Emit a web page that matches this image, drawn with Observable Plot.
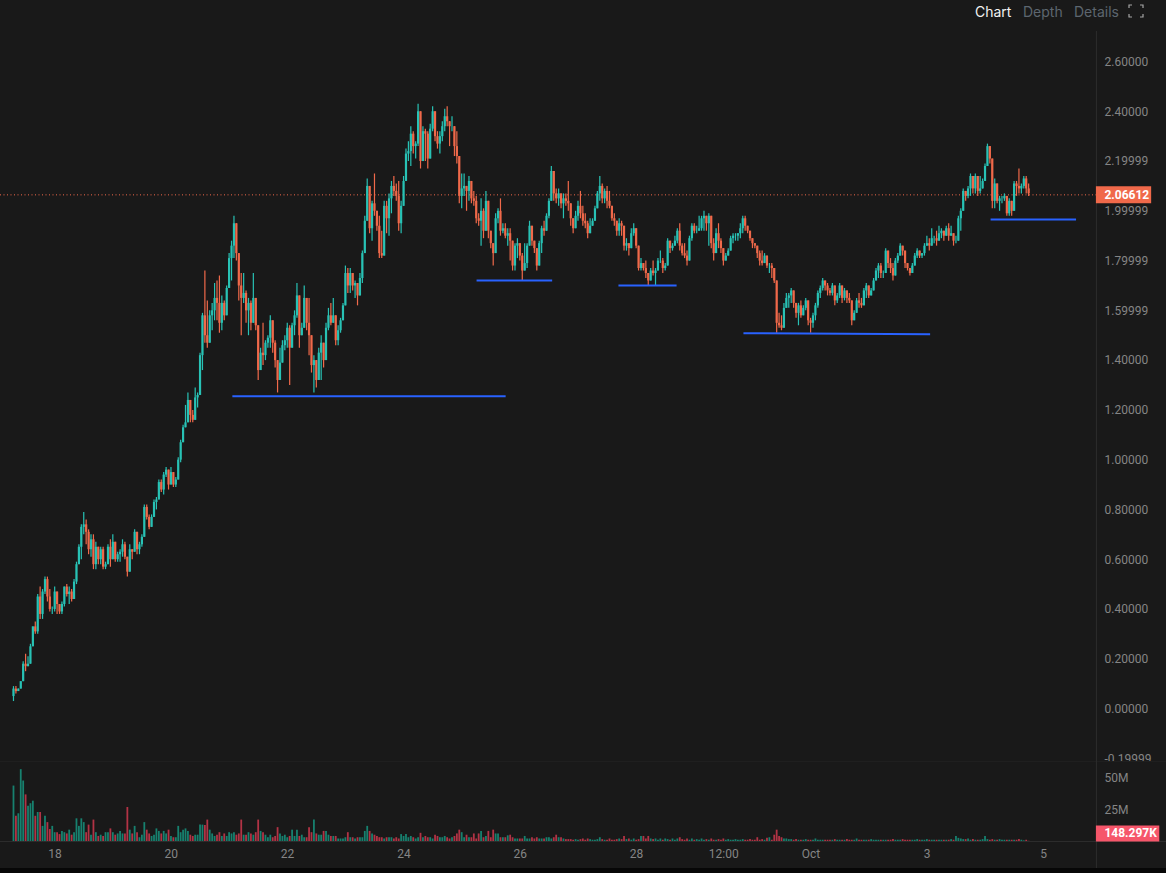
<!DOCTYPE html>
<html>
<head>
<meta charset="utf-8">
<script src="https://cdn.jsdelivr.net/npm/d3@7"></script>
<script src="https://cdn.jsdelivr.net/npm/@observablehq/plot@0.6"></script>
<style>
html,body{margin:0;padding:0;background:#191919;overflow:hidden}
#stage{position:relative;width:1166px;height:873px;background:#191919;overflow:hidden}
#stage>svg{position:absolute;left:0}
#strip{position:absolute;left:0;top:868px;width:1166px;height:5px;background:#070707}
.tab{position:absolute;top:3px;font:14px/17px Inter,sans-serif;color:#5d666f}
</style>
</head>
<body>
<div id="stage">
  <div class="tab" style="left:975px;color:#f2f2f2">Chart</div>
  <div class="tab" style="left:1023px">Depth</div>
  <div class="tab" style="left:1074px">Details</div>
  <svg width="16" height="14" style="left:1128px;top:4px" fill="none" stroke="#a5a5a5" stroke-width="1.2">
    <path d="M1 4V1H4M12 1H15V4M15 10V13H12M4 13H1V10"/>
  </svg>
  <div id="strip"></div>
</div>
<script>
// Hourly candles, prices in hundredths
const highs = [
9,9,8,11,19,22,21,26,33,35,
46,49,48,53,53,48,41,49,44,42,
43,49,50,49,48,52,59,66,74,79,
76,72,70,70,67,64,65,65,59,66,
68,70,63,63,64,68,67,61,66,64,
72,71,67,70,82,82,78,78,84,85,
92,92,95,97,96,97,94,93,101,108,
114,122,127,122,120,129,127,143,159,176,
164,160,163,171,172,174,166,164,170,183,
188,198,190,181,175,175,168,165,164,175,
165,153,145,155,148,150,158,156,148,140,
145,148,150,155,154,155,160,171,166,155,
170,162,165,150,142,139,145,150,145,155,
161,163,165,158,154,157,163,178,177,177,
175,172,170,175,184,198,213,208,204,215,
200,198,192,204,204,207,212,214,211,212,
204,214,225,228,234,232,228,243,231,234,
233,232,235,242,233,232,232,236,241,242,
236,238,232,232,219,215,215,210,214,211,
208,206,199,205,201,208,197,192,186,199,
201,205,195,195,193,193,188,187,189,187,
183,187,187,196,192,188,185,188,194,196,
199,205,218,213,209,209,207,207,207,212,
202,196,200,204,208,202,199,196,197,197,
202,208,214,211,209,210,208,200,199,196,
197,196,193,189,187,193,195,189,185,181,
179,180,174,177,180,177,181,184,181,179,
189,188,187,190,193,195,187,187,184,190,
195,195,194,198,198,200,197,199,190,189,
193,195,189,184,183,185,190,191,191,191,
195,198,198,193,191,189,187,185,184,184,
183,181,179,179,176,172,159,158,163,167,
167,169,167,163,163,164,162,165,161,157,
159,163,168,170,173,171,171,169,171,167,
167,171,167,169,168,167,161,160,165,167,
165,169,171,167,169,173,177,179,179,176,
185,183,181,179,181,183,187,186,183,179,
176,179,183,185,183,183,187,190,189,193,
190,192,194,193,192,194,195,194,191,190,
198,201,209,208,210,215,210,215,211,214,
213,219,227,224,220,213,211,206,206,207,
205,205,204,212,212,217,211,214,214,211];
const lows = [
3,6,7,8,11,15,18,18,25,30,
30,36,36,46,43,39,38,39,38,38,
38,41,45,42,43,44,50,58,60,70,
66,62,61,56,56,58,58,56,56,58,
57,61,59,59,59,61,60,53,56,60,
64,62,62,65,69,76,72,73,77,80,
84,87,86,93,88,91,89,89,92,99,
107,113,117,115,115,120,121,132,136,147,
145,148,152,156,156,151,152,156,163,169,
172,181,180,164,150,163,155,150,152,156,
152,132,136,138,140,145,145,143,137,127,
133,139,144,145,130,145,150,157,145,150,
155,152,142,135,127,129,133,132,137,145,
152,154,155,146,146,151,156,162,167,167,
168,165,162,167,171,183,196,191,188,198,
192,181,181,182,191,190,199,206,204,192,
191,203,213,220,218,223,221,226,217,224,
220,217,224,232,228,225,223,228,232,234,
226,232,222,219,203,201,206,200,204,203,
202,195,194,186,189,192,189,185,178,189,
195,190,191,189,186,180,176,176,181,180,
172,176,177,186,186,183,176,181,183,190,
192,197,205,204,203,202,201,197,202,200,
194,191,193,196,197,194,193,189,193,194,
196,203,204,203,203,201,201,196,194,190,
190,190,184,184,182,187,190,185,176,176,
176,173,170,173,174,170,177,179,175,176,
180,183,184,187,187,184,182,181,178,183,
188,191,191,192,192,192,192,186,185,180,
186,185,183,178,180,182,184,187,188,188,
189,191,192,191,188,185,185,181,178,178,
180,177,175,173,171,151,153,152,157,161,
161,163,161,157,154,157,159,160,154,151,
153,156,161,165,168,168,166,166,166,162,
163,165,163,164,163,163,154,156,160,161,
161,166,165,165,166,168,173,173,173,173,
179,177,175,172,176,179,182,182,177,176,
174,176,179,181,181,181,182,186,184,187,
187,186,190,189,188,190,188,190,186,187,
189,192,203,204,205,206,207,207,206,207,
210,213,220,219,201,201,203,200,203,204,
198,198,198,201,206,207,207,209,207,206];
const closes = [
8,7,8,11,18,17,18,25,33,31,
45,38,47,52,45,40,40,47,42,39,
42,49,46,47,44,51,58,65,73,74,
71,64,68,58,65,60,64,57,58,65,
60,67,60,62,63,66,61,55,64,63,
71,64,66,69,81,77,73,77,83,84,
91,88,94,96,90,95,90,92,100,107,
113,115,124,118,116,125,126,142,158,150,
147,158,160,165,163,155,163,158,169,181,
186,195,183,170,165,167,160,163,155,165,
154,136,143,142,147,149,156,147,140,132,
139,146,148,153,145,154,158,166,150,153,
165,155,150,138,140,132,143,147,140,153,
158,155,158,148,152,156,162,175,170,175,
170,171,166,173,183,196,210,193,203,200,
194,183,182,202,197,205,210,208,206,195,
202,212,223,224,231,226,227,240,220,232,
231,221,233,240,230,227,230,234,238,236,
234,234,226,222,206,209,210,208,212,205,
204,197,196,200,192,204,192,187,183,197,
200,192,193,190,191,188,178,186,187,182,
176,179,186,194,188,185,178,187,193,192,
198,204,216,207,205,207,203,205,204,203,
197,193,198,202,199,196,195,191,194,196,
201,207,210,205,208,204,202,197,196,192,
195,194,186,187,185,191,193,186,177,179,
177,175,172,176,175,176,180,180,177,178,
188,185,186,188,192,186,183,182,180,189,
194,192,192,193,197,198,195,198,187,183,
191,188,185,180,182,184,189,190,190,191,
193,197,194,192,189,187,186,183,180,179,
182,178,178,177,172,155,154,153,161,165,
166,168,163,159,162,158,161,164,156,155,
158,162,167,169,172,170,168,167,170,164,
166,170,165,168,165,164,156,159,164,163,
162,168,170,166,168,172,176,178,175,175,
184,179,177,174,180,182,186,184,179,177,
175,178,182,184,182,183,186,187,186,189,
189,188,191,192,190,193,190,191,188,188,
197,200,208,206,209,214,209,214,208,209,
212,218,226,221,204,211,204,205,205,206,
199,204,200,211,210,209,210,213,209,207];
// Hourly traded volume, millions
const volumes = [
44,20,22,57,48,37,28,30,32,20,
23,23,12,20,15,9.5,12,7,7,5.5,
8,7,6,9,5,7,18,12,18,15,
7,13,5,17,7,4,5,4,7,7,
10,7,5,6,8,6,6,27,9,6,
12,7,3,5,15,9,6,4,5,10,
8,6,8,6,9,4,3,3,12,7,
9,10,8,5,4,5,5,13,13,12.7,
17,9,6,4,5,7,4,6,4,7,
6,7,5,6,17,5,5,7,6,5,
7,17,8,7,5,3,5,3,4,11,
6,4,5,3,4,9,4,9,4,5,
3,3,11,7,17,6,5,5,8,8,
5,4,4,4,2,2,2,3,7,3,
3,2,3,3,3,8,12,8,6,5,
4,3,3,2,3,3,3,2,3,2,
5.5,4,5.5,3,4,3,2,3,6.5,3,
4,3,3,2,5,4,3,3,4,3,
2,3,4,6,9,7,3,5,3,3,
6,2,6,8,3,4,8,3,9,6,
6,3,3,3,4.5,5,3,2,2,2,
2,4,2,2,3,2,3,2,2,2,
3,3,2,3,5,3,3,2,1.5,1.5,
1.5,1,1.5,1,1.5,2,1,2,1.5,1,
1,1.5,3,1.5,1,1,2,1,1,1.5,
2,1.5,4,1.5,2,1,2,1,1.5,4,
4,2,4,2,1.5,2,1,2,1,2,
1.5,1,2,1,2,3,1.5,1,2,1,
2,1,1.5,1,2,1,1.5,1,2,1,
1,1.5,1,2,1,1.5,1,1,1.5,1,
1,1.5,1,1,1.5,1,1,3,1,1.5,
1,2.5,3,1,5,9,4,3,2,2,
1.5,1.5,1,1.5,1,1,1,1.5,1,1,
1,2,1,1,1,1,1,1,1,1.5,
1,1,1,1,1.5,1,1,1,2,1,
1,1,1,1,1.5,1,1,1,1,1,
1,1,1,1.5,1,1,1,1.5,1,1,
1,1,1,1.5,1,1,1,1.5,1,1,
1,1,1,1,1,1,1,1.5,1,4,
2.5,2,1.5,1.5,2,1,1.5,1,1,1,
1.5,4,1.5,1,1.5,1,1,1.5,1,1,
1,1,1,1,1,1.5,1,0.5,1,0.15];

const firstOpen = 5;
const firstDay = 17.286;        // day-of-September position of the first candle
const lastPrice = 2.06612;
const lastVolumeLabel = "148.297K";
const volumeTagLevel = 6.3;

const priceTicks = [2.6,2.4,2.19999,1.99999,1.79999,1.59999,1.4,1.2,1,0.8,0.6,0.4,0.2,0,-0.19999];
const volumeTicks = [25,50];
const dayTicks = [18,20,22,24,26,28,29.5,31,33,35];
const dayLabels = ["18","20","22","24","26","28","12:00","Oct","3","5"];

// Hand-drawn support lines
const levelStart = [21.05,25.25,27.69,29.84,34.09];
const levelEnd = [25.75,26.55,28.69,33.05,35.56];
const levelPriceStart = [1.257,1.722,1.702,1.510,1.967];
const levelPriceEnd = [1.257,1.722,1.702,1.506,1.967];

const leftDay = 17;
const axisDay = 35.91;
const priceTagEnd = 36.86;
const volumeTagEnd = 37.0;
const rightDay = 38;
const volPaneTop = 64;
const volPaneBottom = -22;

const UP = "#28c2b5", DOWN = "#f0694a";
const VOL_UP = "#17816f", VOL_DOWN = "#b23345";
const TEXT = "#858585", LINE = "#2c2c2c";

const candles = closes.map((c, i) => {
  const open = i ? closes[i-1]/100 : firstOpen/100;
  const close = c/100;
  return {
    t: firstDay + i/24,
    open, close,
    high: Math.max(highs[i]/100, open, close),
    low: Math.min(lows[i]/100, open, close),
    vol: volumes[i],
    up: close >= open
  };
});
const levels = levelStart.map((s,i)=>({x1:s,x2:levelEnd[i],y1:levelPriceStart[i],y2:levelPriceEnd[i]}));
const xScale = {type:"linear",domain:[18,35],range:[54.5,1043]};
const baseStyle = {background:"transparent",fontFamily:"Roboto,sans-serif",fontSize:"12px",color:TEXT};

const pricePlot = Plot.plot({
  width:1166,height:761,marginTop:31,marginBottom:0,marginLeft:0,marginRight:70,
  style:baseStyle,
  x:{...xScale,axis:null},
  y:{type:"linear",domain:[0,2.6],range:[708.5,61.5],axis:null},
  marks:[
    Plot.ruleX([axisDay],{stroke:LINE}),
    Plot.ruleY([lastPrice],{stroke:DOWN,strokeWidth:1,strokeDasharray:"1 2.5"}),
    Plot.ruleX(candles,{x:"t",y1:"low",y2:"high",stroke:d=>d.up?UP:DOWN,strokeWidth:1.2}),
    Plot.ruleX(candles,{x:"t",y1:"open",y2:"close",stroke:d=>d.up?UP:DOWN,strokeWidth:2.2}),
    Plot.link(levels,{x1:"x1",x2:"x2",y1:"y1",y2:"y2",stroke:"#2962ff",strokeWidth:2}),
    Plot.axisY({anchor:"right",ticks:priceTicks,tickSize:0,tickPadding:8,label:null,tickFormat:d=>d.toFixed(5),fill:TEXT,fontSize:12}),
    Plot.ruleY([lastPrice],{x1:axisDay,x2:priceTagEnd,stroke:DOWN,strokeWidth:17}),
    Plot.text([lastPrice],{x:axisDay,y:d=>d,text:d=>d.toFixed(5),dx:8,textAnchor:"start",fill:"#fff",fontWeight:"bold",fontSize:12})
  ]
});
pricePlot.style.top = "0px";

const volumePlot = Plot.plot({
  width:1166,height:107,marginTop:0,marginBottom:27,marginLeft:0,marginRight:70,
  style:baseStyle,
  x:{...xScale,axis:null},
  y:{type:"linear",domain:[0,25],range:[80,48.5],axis:null},
  marks:[
    Plot.ruleY([0],{x1:leftDay,x2:rightDay,stroke:LINE}),
    Plot.ruleY([volPaneTop],{x1:leftDay,x2:rightDay,stroke:LINE}),
    Plot.ruleX([axisDay],{y1:volPaneBottom,y2:volPaneTop,stroke:LINE}),
    Plot.ruleX(candles,{x:"t",y1:0,y2:"vol",stroke:d=>d.up?VOL_UP:VOL_DOWN,strokeWidth:1.8}),
    Plot.axisY({anchor:"right",ticks:volumeTicks,tickSize:0,tickPadding:8,label:null,tickFormat:d=>d+"M",fill:TEXT,fontSize:12}),
    Plot.axisX({anchor:"bottom",ticks:dayTicks,tickSize:0,tickPadding:8,label:null,tickFormat:d=>dayLabels[dayTicks.indexOf(d)],fill:TEXT,fontSize:12}),
    Plot.ruleY([volumeTagLevel],{x1:axisDay,x2:volumeTagEnd,stroke:"#f6566a",strokeWidth:16}),
    Plot.text([volumeTagLevel],{x:axisDay,y:d=>d,text:()=>lastVolumeLabel,dx:8,textAnchor:"start",fill:"#fff",fontWeight:"bold",fontSize:12})
  ]
});
volumePlot.style.top = "761px";

const stage = document.getElementById("stage");
stage.appendChild(pricePlot);
stage.appendChild(volumePlot);
</script>
</body>
</html>
